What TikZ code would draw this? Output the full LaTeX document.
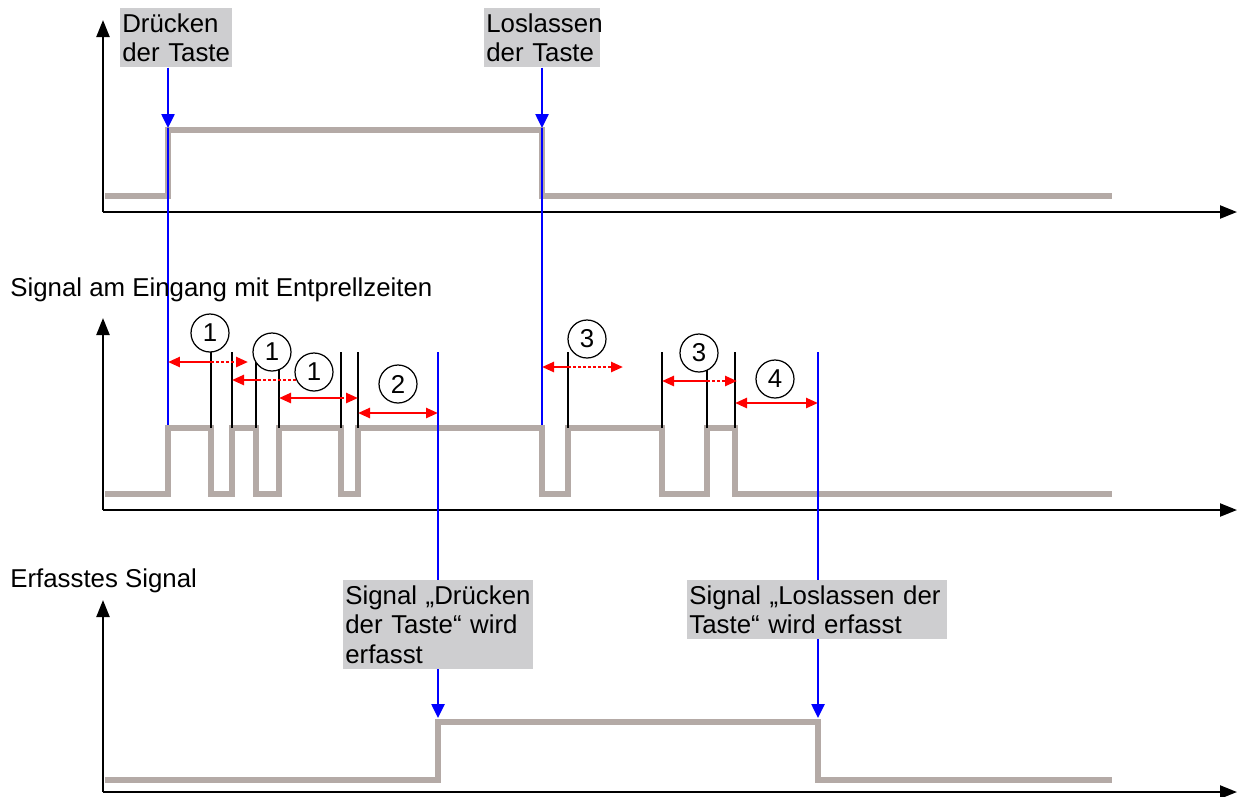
\documentclass[tikz,border=0pt]{standalone}
\usepackage{fontspec}
\setmainfont{Liberation Sans}
\usetikzlibrary{arrows.meta}
\definecolor{sig}{RGB}{180,170,166}
\definecolor{boxgray}{RGB}{206,206,208}

\begin{document}
\begin{tikzpicture}[x=0.02cm, y=-0.02cm,
  font=\fontsize{14.7}{17}\selectfont,
  axis/.style={line width=0.045cm, -{Triangle[length=0.34cm,width=0.26cm]}},
  signal/.style={line width=0.12cm, draw=sig},
  tag/.style={fill=boxgray, anchor=north west, align=left, inner xsep=0.04cm, inner ysep=0.1cm},
  num/.style={draw, circle, fill=white, minimum size=0.76cm, inner sep=0pt, line width=0.7pt},
  press/.style={draw=blue, line width=0.05cm, -{Triangle[length=0.28cm,width=0.26cm]}},
  guide/.style={draw=blue, line width=0.7pt},
  tick/.style={draw=black, line width=0.6pt},
  span/.style={draw=red, line width=0.05cm, >={Triangle[length=0.24cm,width=0.2cm]}},
  dots/.style={span, dash pattern=on 0.06cm off 0.04cm}
]
\useasboundingbox (0,0) rectangle (1238,796);

% Taste
\draw[axis] (103,212) -- (103,20);
\draw[axis] (103,212) -- (1237,212);
\draw[signal] (105,196) -- (168,196) -- (168,130) -- (542,130) -- (542,196) -- (1112,196);
\node[tag, text width=2.16cm] (press) at (120,8) {Drücken\\der Taste};
\node[tag, text width=2.24cm] (release) at (484,8) {Loslassen\\der Taste};
\coordinate (p1) at (168,128);
\coordinate (r1) at (542,128);
\draw[press] (press.south -| p1) -- (p1);
\draw[press] (release.south -| r1) -- (r1);
\draw[guide] (p1) -- (168,428);
\draw[guide] (r1) -- (542,428);

% Eingang
\node[anchor=base west, inner sep=0pt] (bounce) at (10,296) {Signal am Eingang mit Entprellzeiten};
\draw[axis] (103,510) -- (103,318);
\draw[axis] (103,510) -- (1237,510);
\draw[signal] (105,494) -- (168,494) -- (168,428) -- (211,428) -- (211,494) -- (232,494)
  -- (232,428) -- (256,428) -- (256,494) -- (279,494) -- (279,428) -- (341,428) -- (341,494)
  -- (358,494) -- (358,428) -- (542,428) -- (542,494) -- (568,494) -- (568,428) -- (662,428)
  -- (662,494) -- (707,494) -- (707,428) -- (735,428) -- (735,494) -- (1112,494);
\foreach \x in {211,232,256,279,341,358,568,662,707,735}
  \draw[tick] (\x,352) -- (\x,428);

\draw[span, <-] (168,362) -- (211,362);
\draw[dots, ->] (211,362) -- (248,362);
\draw[span, <-] (232,380) -- (258,380);
\draw[dots] (258,380) -- (300,380);
\draw[span, <-] (279,398) -- (341,398);
\draw[dots, ->] (341,398) -- (358,398);
\draw[span, <->] (358,413) -- (438,413);
\draw[span, <-] (542,367) -- (568,367);
\draw[dots, ->] (568,367) -- (623,367);
\draw[span, <-] (662,381) -- (707,381);
\draw[dots, ->] (707,381) -- (737,381);
\draw[span, <->] (735,403) -- (818,403);

\node[num] (n1) at (210,333) {1};
\node[num] (n2) at (272,352) {1};
\node[num] (n3) at (314,372) {1};
\node[num] (n4) at (398,384) {2};
\node[num] (n5) at (587,339) {3};
\node[num] (n6) at (699,353) {3};
\node[num] (n7) at (775,379) {4};

% Erfasst
\node[anchor=base west, inner sep=0pt] (caught) at (10,587) {Erfasstes Signal};
\draw[axis] (103,792) -- (103,600);
\draw[axis] (103,792) -- (1237,792);
\draw[signal] (105,780) -- (438,780) -- (438,722) -- (818,722) -- (818,780) -- (1112,780);
\coordinate (d1) at (438,718);
\coordinate (d2) at (818,718);
\draw[press] (438,352) -- (d1);
\draw[press] (818,352) -- (d2);
\node[tag, text width=3.72cm] (caughtp) at (343,580) {Signal „Drücken\\der Taste“ wird\\erfasst};
\node[tag, text width=5.12cm] (caughtr) at (687,580) {Signal „Loslassen der\\Taste“ wird erfasst};
\end{tikzpicture}
\end{document}
